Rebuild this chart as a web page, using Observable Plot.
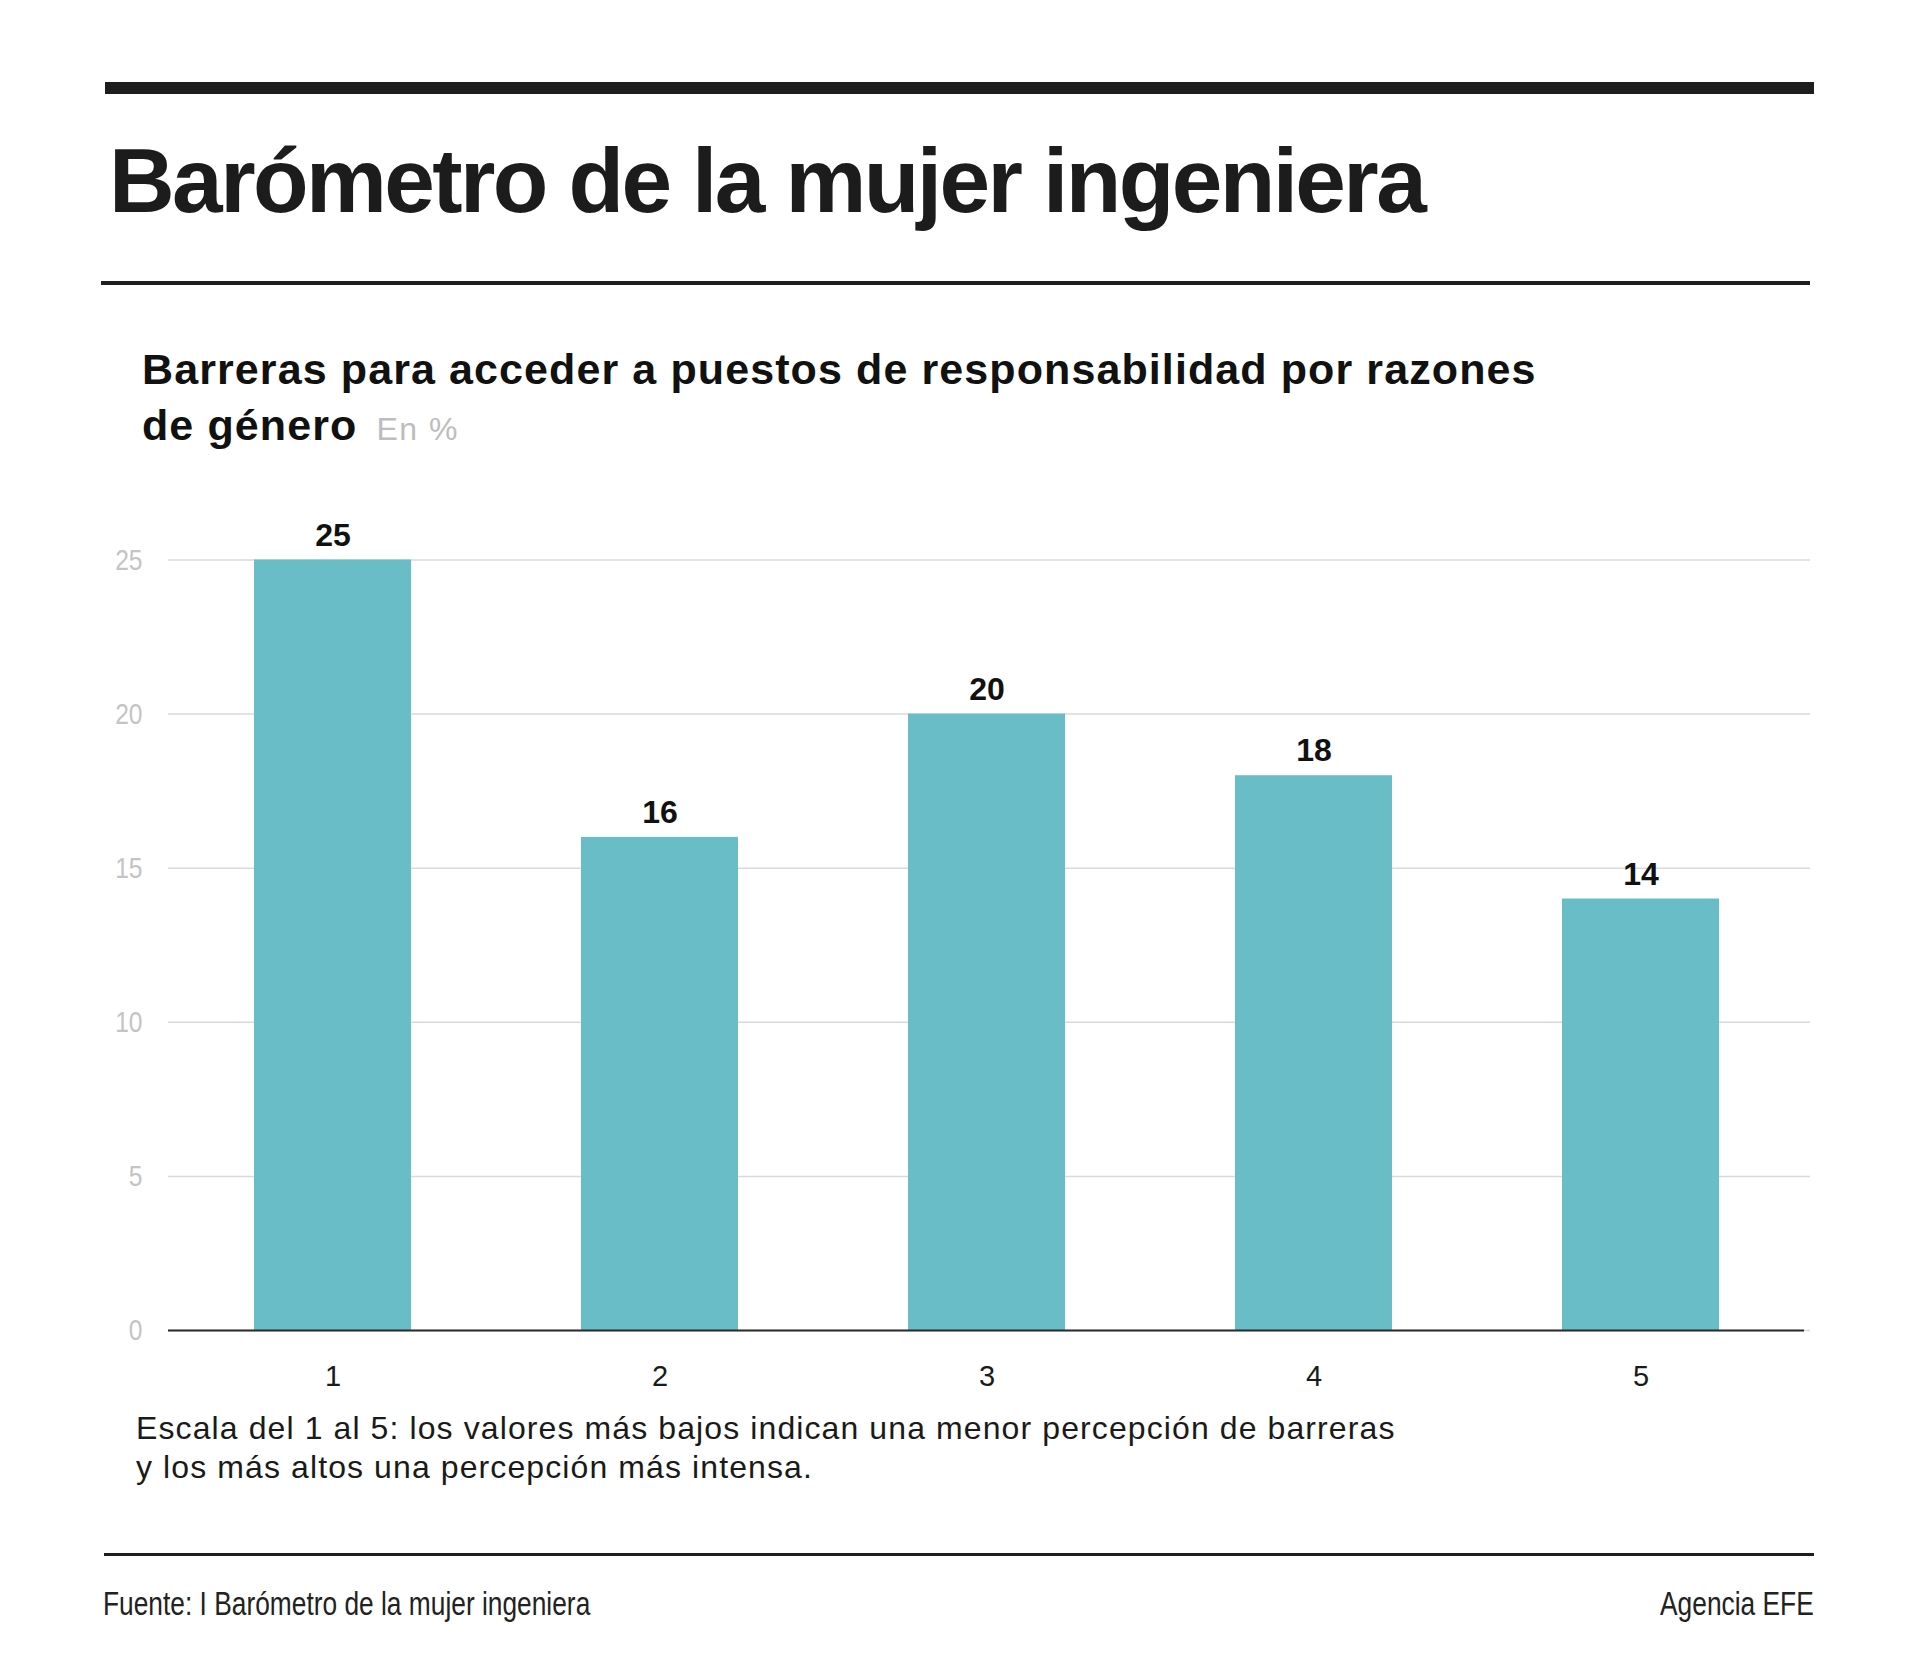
<!DOCTYPE html>
<html>
<head>
<meta charset="utf-8">
<script src="https://cdn.jsdelivr.net/npm/d3@7"></script>
<script src="https://cdn.jsdelivr.net/npm/@observablehq/plot@0.6"></script>
<style>
  html, body { margin: 0; padding: 0; background: #fff; }
  #page { position: relative; width: 1920px; height: 1677px; background: #fff; font-family: "Liberation Sans", Arial, sans-serif; color: #1a1a1a; overflow: hidden; }
  .abs { position: absolute; white-space: nowrap; }
  .rule { position: absolute; background: #1e1e1e; }
  #title { left: 109px; top: 134.6px; font-size: 91px; line-height: 91px; font-weight: bold; letter-spacing: -2.6px; color: #1c1c1c; }
  #subtitle { left: 142px; top: 340.5px; font-size: 43px; line-height: 56px; font-weight: bold; letter-spacing: 1.1px; color: #111; }
  #subtitle .unit { font-weight: normal; font-size: 32px; letter-spacing: 1.5px; color: #bdbdbd; margin-left: 6px; }
  #chart { position: absolute; left: 0; top: 500px; }
  #caption { left: 136px; top: 1409px; font-size: 32px; line-height: 39px; letter-spacing: 1.1px; color: #1a1a1a; }
  .foot { top: 1587.5px; font-size: 32.5px; line-height: 32.5px; color: #222; transform: scaleX(0.81); }
</style>
</head>
<body>
<div id="page">
  <div class="rule" style="left:105px; top:82px; width:1709px; height:12px;"></div>
  <div id="title" class="abs">Barómetro de la mujer ingeniera</div>
  <div class="rule" style="left:101px; top:281px; width:1709px; height:3.5px;"></div>
  <div id="subtitle" class="abs">Barreras para acceder a puestos de responsabilidad por razones<br>de género <span class="unit">En %</span></div>
  <div id="chart"></div>
  <div id="caption" class="abs">Escala del 1 al 5: los valores más bajos indican una menor percepción de barreras<br>y los más altos una percepción más intensa.</div>
  <div class="rule" style="left:104px; top:1552.5px; width:1710px; height:3.5px;"></div>
  <div class="abs foot" style="left:103px; transform-origin: left center;">Fuente: I Barómetro de la mujer ingeniera</div>
  <div class="abs foot" style="right:106px; transform-origin: right center;">Agencia EFE</div>
</div>
<script>
const categories = ["1", "2", "3", "4", "5"];
const values = [25, 16, 20, 18, 14];
const yTicks = [0, 5, 10, 15, 20, 25];

const data = categories.map((c, i) => ({cat: c, value: values[i]}));

const chart = Plot.plot({
  width: 1920,
  height: 900,
  marginLeft: 168,
  marginRight: 116,
  marginTop: 59.5,
  marginBottom: 70,
  style: {background: "transparent", fontFamily: "'Liberation Sans', Arial, sans-serif", overflow: "visible"},
  x: {type: "band", domain: categories, paddingInner: 0.52, paddingOuter: 0.258, label: null},
  y: {domain: [0, 25], ticks: yTicks, label: null},
  marks: [
    Plot.gridY(yTicks, {stroke: "#dadada", strokeOpacity: 1, strokeWidth: 1.5, insetRight: -6}),
    Plot.barY(data, {x: "cat", y: "value", fill: "#68bdc7"}),
    Plot.ruleY([0], {stroke: "#2a2a2a", strokeWidth: 2}),
    Plot.text(data, {x: "cat", y: "value", text: d => String(d.value), lineAnchor: "bottom", dy: -14.5, fontSize: 32, fontWeight: "bold", fill: "#111"}),
    Plot.axisY(yTicks, {tickSize: 0, tickPadding: 26, fontSize: 30, color: "#c4c4c4", label: null, ariaLabel: "y-axis"}),
    Plot.axisX({tickSize: 0, tickPadding: 35, fontSize: 29, color: "#1a1a1a", label: null})
  ]
});
document.getElementById("chart").appendChild(chart);

// condensed look for the y tick labels (narrow face of the original)
d3.select(chart).selectAll("g[aria-label='y-axis tick label'] text").each(function () {
  const len = this.getComputedTextLength();
  this.setAttribute("textLength", (len * 0.82).toFixed(2));
  this.setAttribute("lengthAdjust", "spacingAndGlyphs");
});
</script>
</body>
</html>
